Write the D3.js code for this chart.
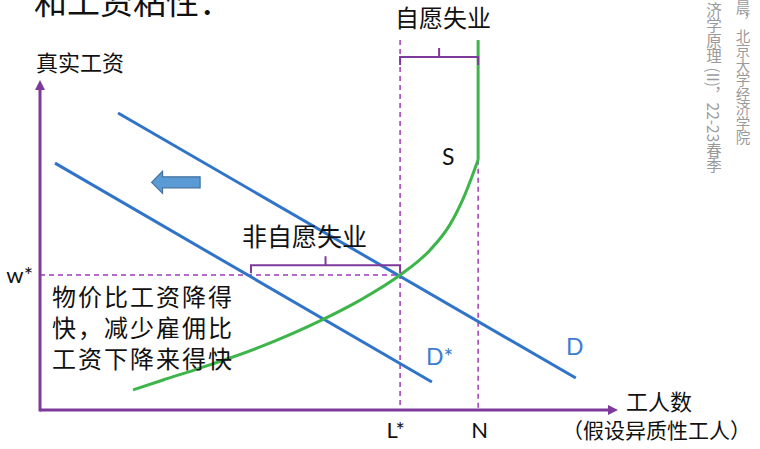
<!DOCTYPE html>
<html><head><meta charset="utf-8">
<script src="https://cdn.jsdelivr.net/npm/d3@7"></script>
<style>
html,body{margin:0;padding:0;background:#fff;}
svg{display:block;}
.cjk{font-family:"Noto Sans CJK SC","Noto Sans",sans-serif;}
.lat{font-family:Lato,"Open Sans",sans-serif;}
</style></head>
<body>
<svg id="c" width="760" height="449"></svg>
<script>
// ---- data (chart units: x 0..100 labour, y 0..100 real wage) ----
const xTickValues = [62.3, 75.8];
const xTickLabels = ["L*", "N"];
const yTickValues = [40.9];
const yTickLabels = ["w*"];
const demandD = [[13.5, 90.0], [92.7, 9.7]];
const demandDstar = [[2.6, 74.8], [67.8, 8.5]];
const supplyCurve = [[16.1, 6.1], [21.3, 9.1], [27.7, 12.7], [38.1, 19.1], [48.8, 27.3], [55.4, 33.3],
  [62.3, 40.9], [67.5, 48.5], [70.9, 56.1], [73.5, 65.2], [75.8, 75.8]];
const supplyVertical = [[75.8, 75.8], [75.8, 112.1]];
const voluntaryBracket = [62.3, 75.8, 107.0];     // x from, x to, y
const involuntaryBracket = [36.5, 62.3, 43.9];
const shiftArrow = [27.7, 19.3, 69.0];           // tail x, tip x, y

const svg = d3.select("#c");
const x = d3.scaleLinear().domain([0, 100]).range([40, 618]);
const y = d3.scaleLinear().domain([0, 100]).range([410, 80]);

const purple = "#7E3A9A", dashP = "#A03AB8", blue = "#2F74C8", green = "#3DB54A";

// title (cut off at top)
svg.append("text").attr("class", "cjk").attr("x", 34).attr("y", 14)
  .attr("font-size", 33).attr("fill", "#111").text("和工资粘性：");

// vertical watermark text
svg.append("text").attr("class", "cjk").attr("x", 743).attr("y", 0)
  .attr("writing-mode", "tb").attr("font-size", 14.5).attr("fill", "#9a9a9a")
  .text("晨，北京大学经济学院");
svg.append("text").attr("class", "cjk").attr("x", 714).attr("y", 2)
  .attr("writing-mode", "tb").attr("font-size", 15.5).attr("fill", "#9a9a9a")
  .text("济学原理 (II)，22-23春季");

// dashed guides
const dash = "5,4";
svg.append("line").attr("x1", x(0)).attr("x2", x(xTickValues[0])).attr("y1", y(yTickValues[0])).attr("y2", y(yTickValues[0]))
  .attr("stroke", dashP).attr("stroke-width", 1.5).attr("stroke-dasharray", dash);
svg.append("line").attr("x1", x(xTickValues[0])).attr("x2", x(xTickValues[0])).attr("y1", y(112.1)).attr("y2", y(0))
  .attr("stroke", dashP).attr("stroke-width", 1.5).attr("stroke-dasharray", dash);
svg.append("line").attr("x1", x(xTickValues[1])).attr("x2", x(xTickValues[1])).attr("y1", y(75.8)).attr("y2", y(0))
  .attr("stroke", dashP).attr("stroke-width", 1.5).attr("stroke-dasharray", dash);

// axes via d3 axis (labels), lines drawn separately with arrowheads
const xAxis = svg.append("g").attr("transform", `translate(0,${y(0)})`)
  .call(d3.axisBottom(x).tickValues(xTickValues).tickSize(0).tickPadding(12)
    .tickFormat((d, i) => xTickLabels[i]));
xAxis.select(".domain").remove();
xAxis.selectAll("text").attr("class", "lat").attr("font-size", 22).attr("fill", "#111")
  .attr("dx", (d, i) => i === 0 ? -5 : 1);
const yAxis = svg.append("g").attr("transform", `translate(${x(0)},0)`)
  .call(d3.axisLeft(y).tickValues(yTickValues).tickSize(0).tickPadding(7)
    .tickFormat((d, i) => yTickLabels[i]));
yAxis.select(".domain").remove();
yAxis.selectAll("text").attr("class", "lat").attr("font-size", 22).attr("fill", "#111");

svg.append("line").attr("x1", x(0)).attr("x2", 610).attr("y1", y(0)).attr("y2", y(0))
  .attr("stroke", purple).attr("stroke-width", 3);
svg.append("path").attr("d", `M618,${y(0)} L608,${y(0) - 5} L608,${y(0) + 5} Z`).attr("fill", purple);
svg.append("line").attr("x1", x(0)).attr("x2", x(0)).attr("y1", y(0) + 1.5).attr("y2", 88)
  .attr("stroke", purple).attr("stroke-width", 3);
svg.append("path").attr("d", `M${x(0)},80 L${x(0) - 5},90 L${x(0) + 5},90 Z`).attr("fill", purple);

// axis titles
svg.append("text").attr("class", "cjk").attr("x", 36).attr("y", 71).attr("font-size", 22).attr("fill", "#111").text("真实工资");
svg.append("text").attr("class", "cjk").attr("x", 626).attr("y", 410).attr("font-size", 22).attr("fill", "#111").text("工人数");
svg.append("text").attr("class", "cjk").attr("x", 562).attr("y", 438).attr("font-size", 21).attr("fill", "#111").text("（假设异质性工人）");

// demand lines
const line = d3.line().x(d => x(d[0])).y(d => y(d[1]));
svg.append("path").attr("d", line(demandD)).attr("stroke", blue).attr("stroke-width", 3).attr("fill", "none");
svg.append("path").attr("d", line(demandDstar)).attr("stroke", blue).attr("stroke-width", 3).attr("fill", "none");

// supply
svg.append("path").attr("d", d3.line().x(d => x(d[0])).y(d => y(d[1])).curve(d3.curveMonotoneX)(supplyCurve)).attr("stroke", green).attr("stroke-width", 3).attr("fill", "none");
svg.append("path").attr("d", line(supplyVertical)).attr("stroke", green).attr("stroke-width", 3).attr("fill", "none");

// brackets
function bracket(b) {
  const x1 = x(b[0]), x2 = x(b[1]), yy = y(b[2]), xm = (x1 + x2) / 2;
  svg.append("path").attr("d", `M${x1},${yy + 8} L${x1},${yy} L${x2},${yy} L${x2},${yy + 8} M${xm},${yy} L${xm},${yy - 9}`)
    .attr("stroke", purple).attr("stroke-width", 2).attr("fill", "none");
}
bracket(voluntaryBracket);
bracket(involuntaryBracket);
svg.append("text").attr("class", "cjk").attr("x", 395).attr("y", 27).attr("font-size", 24).attr("fill", "#111").text("自愿失业");
svg.append("text").attr("class", "cjk").attr("x", 242).attr("y", 246).attr("font-size", 25).attr("fill", "#111").text("非自愿失业");

// shift arrow
{
  const xt = x(shiftArrow[1]), xe = x(shiftArrow[0]), yc = y(shiftArrow[2]);
  svg.append("path").attr("d", `M${xt},${yc} L${xt + 11},${yc - 11} L${xt + 11},${yc - 5.5} L${xe},${yc - 5.5} L${xe},${yc + 5.5} L${xt + 11},${yc + 5.5} L${xt + 11},${yc + 11} Z`)
    .attr("fill", "#5B9BD5").attr("stroke", "#41719C").attr("stroke-width", 1.2);
}

// curve labels
svg.append("text").attr("class", "lat").attr("x", 442).attr("y", 165).attr("font-size", 23).attr("fill", "#111").text("S");
svg.append("text").attr("class", "lat").attr("x", 426).attr("y", 365).attr("font-size", 23).attr("fill", "#3B7DD0").text("D*");
svg.append("text").attr("class", "lat").attr("x", 566).attr("y", 355).attr("font-size", 23).attr("fill", "#3B7DD0").text("D");

// note (one text block, three lines)
const note = ["物价比工资降得", "快，减少雇佣比", "工资下降来得快"];
svg.append("text").attr("class", "cjk").attr("font-size", 24).attr("fill", "#111")
  .selectAll("tspan").data(note).join("tspan")
  .attr("x", 52).attr("y", (d, i) => 306 + i * 31)
  .attr("textLength", 180).attr("lengthAdjust", "spacing").text(d => d);
</script>
</body></html>
